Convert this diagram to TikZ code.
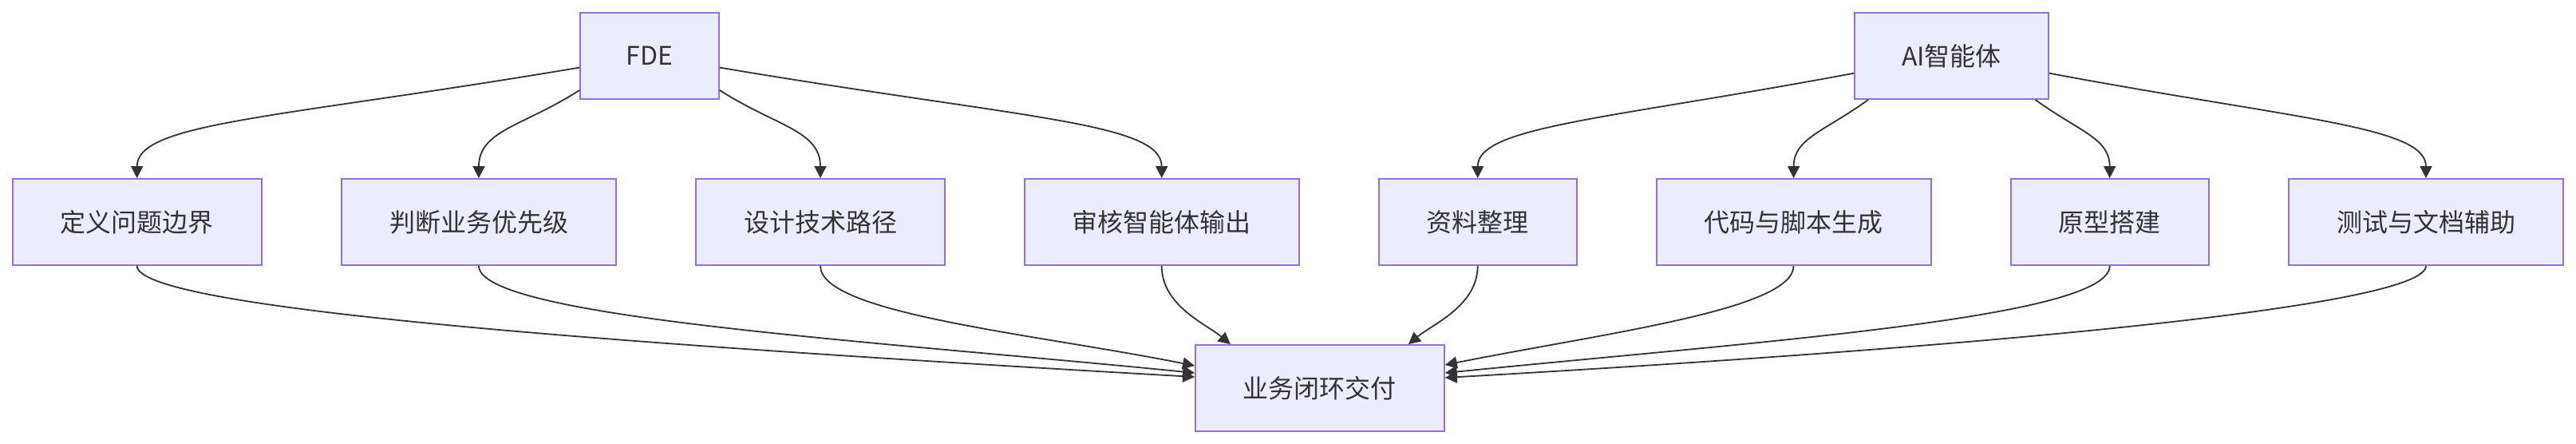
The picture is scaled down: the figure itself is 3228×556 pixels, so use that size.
\documentclass[tikz,border=0pt]{standalone}
\usepackage{fontspec}
\setmainfont{Noto Sans CJK SC}
\usetikzlibrary{arrows.meta}
\definecolor{boxfill}{HTML}{ECECFF}
\definecolor{boxline}{HTML}{9370DB}
\definecolor{edgecol}{HTML}{333333}
\definecolor{txtcol}{HTML}{333333}
\begin{document}
\begin{tikzpicture}[x=1pt,y=-1pt,
  box/.style={draw=boxline, fill=boxfill, line width=1.8pt, minimum height=108pt,
    inner sep=0pt, text=txtcol, font=\fontsize{32}{38}\selectfont},
  edge/.style={draw=edgecol, line width=1.8pt, -{Triangle[length=15pt,width=15pt]}}]
\useasboundingbox (0,0) rectangle (3228,556);
\fill[white] (0,0) rectangle (3228,556);

% top row
\node[box, minimum width=174pt] (fde) at (814,70) {FDE};
\node[box, minimum width=243pt] (ai) at (2445.5,70) {AI智能体};

% middle row
\node[box, minimum width=312pt] (d1) at (171.7,278) {定义问题边界};
\node[box, minimum width=344pt] (d2) at (600,278) {判断业务优先级};
\node[box, minimum width=312pt] (d3) at (1028,278) {设计技术路径};
\node[box, minimum width=344pt] (d4) at (1455.7,278) {审核智能体输出};
\node[box, minimum width=248pt] (a1) at (1851.7,278) {资料整理};
\node[box, minimum width=344pt] (a2) at (2247.6,278) {代码与脚本生成};
\node[box, minimum width=248pt] (a3) at (2643.7,278) {原型搭建};
\node[box, minimum width=344pt] (a4) at (3040,278) {测试与文档辅助};

% bottom
\node[box, minimum width=312pt] (out) at (1653.9,486) {业务闭环交付};

% FDE edges
\draw[edge] ([yshift=-14.6pt]fde.west) .. controls +(-380,64) and +(0,-70) .. (d1.north);
\draw[edge] ([yshift=-43pt]fde.west) .. controls +(-70,45) and +(0,-60) .. (d2.north);
\draw[edge] ([yshift=-43pt]fde.east) .. controls +(70,45) and +(0,-60) .. (d3.north);
\draw[edge] ([yshift=-14.6pt]fde.east) .. controls +(380,64) and +(0,-70) .. (d4.north);

% AI edges
\draw[edge] ([yshift=-21.7pt]ai.west) .. controls +(-310,58) and +(0,-65) .. (a1.north);
\draw[edge] ([xshift=-104.5pt]ai.south) .. controls +(-55,40) and +(0,-50) .. (a2.north);
\draw[edge] ([xshift=105pt]ai.south) .. controls +(55,40) and +(0,-50) .. (a3.north);
\draw[edge] ([yshift=-21.7pt]ai.east) .. controls +(310,58) and +(0,-65) .. (a4.north);

% to delivery
\draw[edge] (d1.south) .. controls +(0,55) and +(-700,-40) .. ([yshift=14pt]out.west);
\draw[edge] (d2.south) .. controls +(0,65) and +(-400,-40) .. ([yshift=19pt]out.west);
\draw[edge] (d3.south) .. controls +(0,60) and +(-200,-40) .. ([yshift=28pt]out.west);
\draw[edge] (d4.south) .. controls +(0,50) and +(-30,-25) .. ([xshift=-112pt]out.north);
\draw[edge] (a1.south) .. controls +(0,50) and +(30,-25) .. ([xshift=111pt]out.north);
\draw[edge] (a2.south) .. controls +(0,55) and +(200,-40) .. ([yshift=29pt]out.east);
\draw[edge] (a3.south) .. controls +(0,65) and +(400,-40) .. ([yshift=19pt]out.east);
\draw[edge] (a4.south) .. controls +(0,50) and +(700,-40) .. ([yshift=13pt]out.east);
\end{tikzpicture}
\end{document}
